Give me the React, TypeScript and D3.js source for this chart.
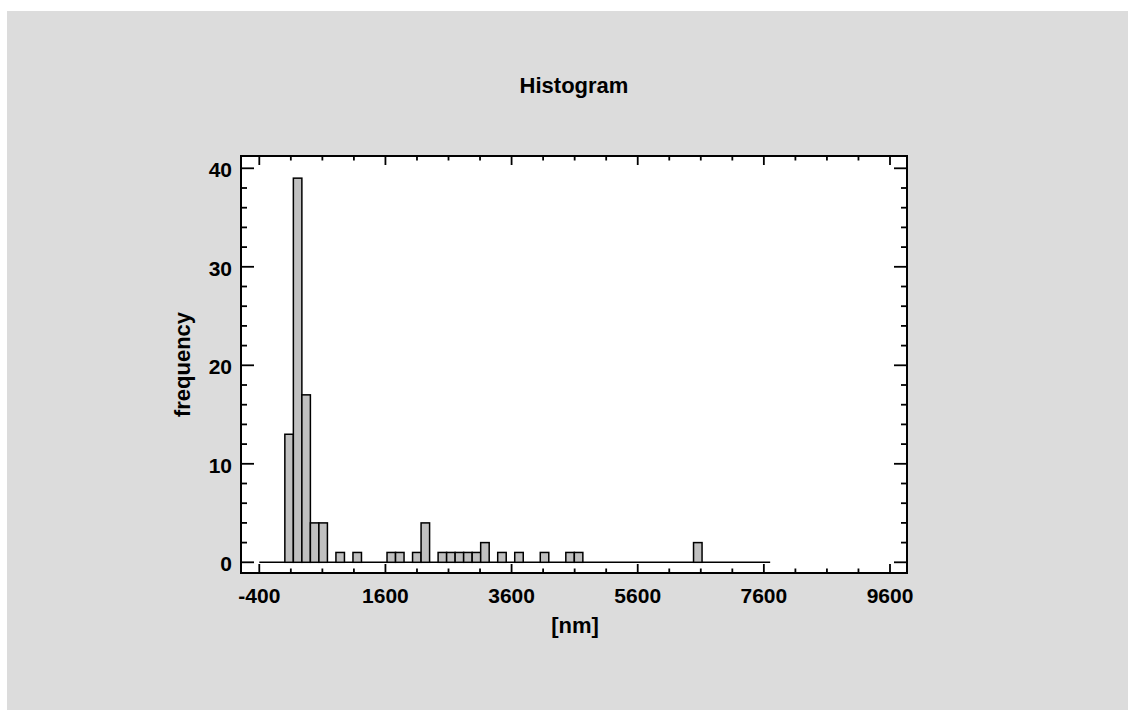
import React from 'react';
import * as d3 from 'd3';

// histogram classes: lower limit, class width, counts per class
const binLower = -400;
const binWidth = 135;
const counts = [
  0, 0, 0, 13, 39, 17, 4, 4, 0, 1,
  0, 1, 0, 0, 0, 1, 1, 0, 1, 4,
  0, 1, 1, 1, 1, 1, 2, 0, 1, 0,
  1, 0, 0, 1, 0, 0, 1, 1, 0, 0,
  0, 0, 0, 0, 0, 0, 0, 0, 0, 0,
  0, 2, 0, 0, 0, 0, 0, 0, 0, 0,
];
const xTickLabels = [-400, 1600, 3600, 5600, 7600, 9600];
const yTickLabels = [0, 10, 20, 30, 40];

const W = 1128;
const H = 710;
const frame = { left: 241, top: 156, right: 907, bottom: 573 };
const font = '"Liberation Sans", Arial, Helvetica, sans-serif';

const App = () => {
  const x = d3.scaleLinear().domain([-400, 9600]).range([259.3, 890]);
  const y = d3.scaleLinear().domain([0, 40]).range([562.3, 168.3]);

  const bins = counts.map((c, i) => ({
    x0: binLower + i * binWidth,
    x1: binLower + (i + 1) * binWidth,
    count: c,
  }));
  const binUpper = binLower + counts.length * binWidth;

  const xMajor = xTickLabels;
  const xMinor = d3.range(-400, 9601, 500).filter((v) => !xMajor.includes(v));
  const yMajor = yTickLabels;
  const yMinor = d3.range(0, 41, 2).filter((v) => !yMajor.includes(v));

  const tickStyle = { stroke: '#000', strokeWidth: 1.8 };

  return (
    <svg
      width={W}
      height={H}
      style={{ position: 'absolute', left: 0, top: 0 }}
      fontFamily={font}
    >
      <rect x={7} y={11} width={W - 7} height={H - 11} fill="#dcdcdc" />
      <rect
        x={frame.left}
        y={frame.top}
        width={frame.right - frame.left}
        height={frame.bottom - frame.top}
        fill="#fff"
      />

      {/* baseline of the histogram, covering the empty classes */}
      <line
        x1={x(binLower)}
        x2={x(binUpper)}
        y1={y(0)}
        y2={y(0)}
        stroke="#000"
        strokeWidth={1.6}
      />

      {/* bars */}
      {bins
        .filter((b) => b.count > 0)
        .map((b, i) => (
          <rect
            key={i}
            x={x(b.x0)}
            y={y(b.count)}
            width={x(b.x1) - x(b.x0)}
            height={y(0) - y(b.count)}
            fill="#c0c0c0"
            stroke="#000"
            strokeWidth={1.5}
          />
        ))}

      {/* bottom / top ticks */}
      {xMajor.map((v) => (
        <g key={'xM' + v}>
          <line x1={x(v)} x2={x(v)} y1={frame.bottom} y2={frame.bottom - 9} {...tickStyle} />
          <line x1={x(v)} x2={x(v)} y1={frame.top} y2={frame.top + 9} {...tickStyle} />
          <text
            x={x(v)}
            y={603}
            textAnchor="middle"
            fontSize={21}
            fontWeight="bold"
          >
            {v}
          </text>
        </g>
      ))}
      {xMinor.map((v) => (
        <g key={'xm' + v}>
          <line x1={x(v)} x2={x(v)} y1={frame.bottom} y2={frame.bottom - 4.5} {...tickStyle} />
          <line x1={x(v)} x2={x(v)} y1={frame.top} y2={frame.top + 4.5} {...tickStyle} />
        </g>
      ))}

      {/* left / right ticks */}
      {yMajor.map((v) => (
        <g key={'yM' + v}>
          <line x1={frame.left} x2={frame.left + 13} y1={y(v)} y2={y(v)} {...tickStyle} />
          <line x1={frame.right} x2={frame.right - 13} y1={y(v)} y2={y(v)} {...tickStyle} />
          <text
            x={232}
            y={y(v) + 9}
            textAnchor="end"
            fontSize={21}
            fontWeight="bold"
          >
            {v}
          </text>
        </g>
      ))}
      {yMinor.map((v) => (
        <g key={'ym' + v}>
          <line x1={frame.left} x2={frame.left + 6} y1={y(v)} y2={y(v)} {...tickStyle} />
          <line x1={frame.right} x2={frame.right - 6} y1={y(v)} y2={y(v)} {...tickStyle} />
        </g>
      ))}

      <rect
        x={frame.left}
        y={frame.top}
        width={frame.right - frame.left}
        height={frame.bottom - frame.top}
        fill="none"
        stroke="#000"
        strokeWidth={2}
      />

      <text
        x={(frame.left + frame.right) / 2}
        y={93}
        textAnchor="middle"
        fontSize={22}
        fontWeight="bold"
      >
        Histogram
      </text>
      <text
        x={575}
        y={633}
        textAnchor="middle"
        fontSize={22}
        fontWeight="bold"
      >
        [nm]
      </text>
      <text
        transform={`translate(190, ${(frame.top + frame.bottom) / 2}) rotate(-90)`}
        textAnchor="middle"
        fontSize={22}
        fontWeight="bold"
      >
        frequency
      </text>
    </svg>
  );
};

export default App;
